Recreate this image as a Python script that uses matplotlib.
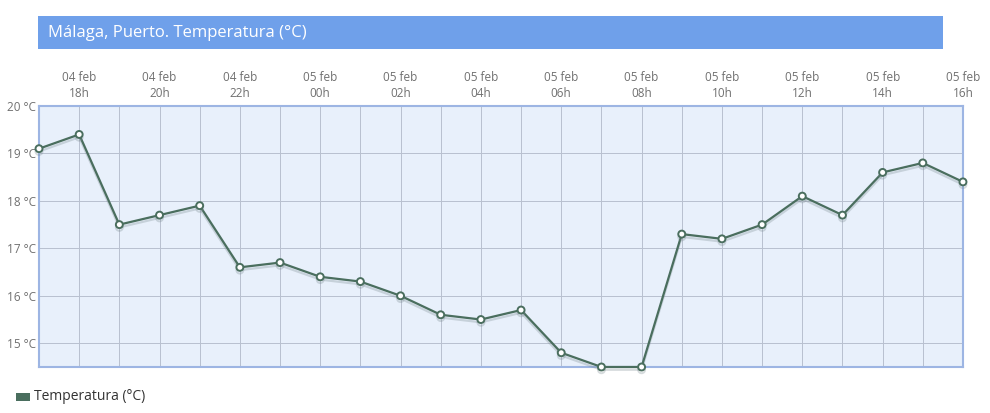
import matplotlib.pyplot as plt
import matplotlib.patheffects as pe
from matplotlib.patches import Rectangle

plt.rcParams['font.family'] = ['Open Sans', 'DejaVu Sans']

# hours from 04 feb 17h to 05 feb 16h
horas = list(range(24))
temperatura = [19.1, 19.4, 17.5, 17.7, 17.9, 16.6, 16.7, 16.4, 16.3, 16.0, 15.6, 15.5,
               15.7, 14.8, 14.5, 14.5, 17.3, 17.2, 17.5, 18.1, 17.7, 18.6, 18.8, 18.4]
tick_pos = [1, 3, 5, 7, 9, 11, 13, 15, 17, 19, 21, 23]
tick_labels = ['04 feb\n18h', '04 feb\n20h', '04 feb\n22h', '05 feb\n00h', '05 feb\n02h',
               '05 feb\n04h', '05 feb\n06h', '05 feb\n08h', '05 feb\n10h', '05 feb\n12h',
               '05 feb\n14h', '05 feb\n16h']
y_ticks = [15, 16, 17, 18, 19, 20]

fig = plt.figure(figsize=(9.9, 4.13), dpi=100)

# title bar
fig.patches.append(Rectangle((0.0384, 0.8814), 0.914, 0.0799, transform=fig.transFigure,
                             facecolor='#6fa0ea', edgecolor='none'))
fig.text(0.048, 0.921, 'Málaga, Puerto. Temperatura (°C)', color='white', fontsize=12,
         va='center', ha='left')

ax = fig.add_axes([0.0394, 0.1114, 0.9333, 0.632])
ax.set_facecolor('#e8f0fb')
ax.set_xlim(0, 23)
ax.set_ylim(14.5, 20)

for x in horas:
    ax.axvline(x, color='#b8c0cf', lw=0.7, zorder=1)
for y in y_ticks:
    ax.axhline(y, color='#b8c0cf', lw=0.7, zorder=1)

ax.plot(horas, temperatura, color='#4a6e5e', lw=1.6, zorder=3, clip_on=False,
        marker='o', markersize=5, markerfacecolor='white', markeredgecolor='#4a6e5e',
        markeredgewidth=1.4,
        path_effects=[pe.SimpleLineShadow(offset=(0, -2), shadow_color='#7a8a90', alpha=0.3),
                      pe.Normal()])

ax.xaxis.tick_top()
ax.set_xticks(tick_pos)
ax.set_xticklabels(tick_labels, fontsize=8.5, color='#707070', linespacing=1.35)
ax.set_yticks(y_ticks)
ax.set_yticklabels([f'{y} °C' for y in y_ticks], fontsize=8.5, color='#707070')
ax.tick_params(length=0, pad=2)
ax.tick_params(axis='x', pad=4)

for s in ax.spines.values():
    s.set_color('#9db5e3')
    s.set_linewidth(1.5)

# legend
fig.patches.append(Rectangle((16 / 990, 1 - 401 / 413), 14 / 990, 8 / 413,
                             transform=fig.transFigure, facecolor='#4a6e5e', edgecolor='none'))
fig.text(34 / 990, 1 - 397 / 413, 'Temperatura (°C)', fontsize=10, color='#333333',
         va='center', ha='left')

fig.savefig('out.png', dpi=100)
